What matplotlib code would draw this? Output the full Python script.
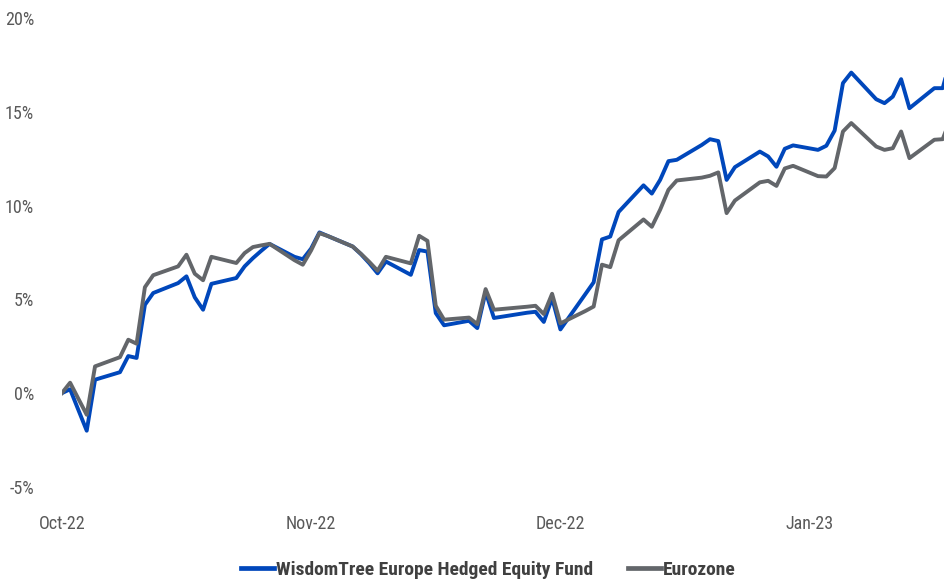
import matplotlib
matplotlib.use("Agg")
import matplotlib.pyplot as plt
import pandas as pd
from matplotlib import font_manager as fm

dates = ["2022-10-03","2022-10-04","2022-10-05","2022-10-06","2022-10-07",
         "2022-10-10","2022-10-11","2022-10-12","2022-10-13","2022-10-14",
         "2022-10-17","2022-10-18","2022-10-19","2022-10-20","2022-10-21",
         "2022-10-24","2022-10-25","2022-10-26","2022-10-27","2022-10-28",
         "2022-10-31","2022-11-01","2022-11-02","2022-11-03","2022-11-04",
         "2022-11-07","2022-11-08","2022-11-09","2022-11-10","2022-11-11",
         "2022-11-14","2022-11-15","2022-11-16","2022-11-17","2022-11-18",
         "2022-11-21","2022-11-22","2022-11-23","2022-11-24","2022-11-25",
         "2022-11-28","2022-11-29","2022-11-30","2022-12-01","2022-12-02",
         "2022-12-05","2022-12-06","2022-12-07","2022-12-08","2022-12-09",
         "2022-12-12","2022-12-13","2022-12-14","2022-12-15","2022-12-16",
         "2022-12-19","2022-12-20","2022-12-21","2022-12-22","2022-12-23",
         "2022-12-26","2022-12-27","2022-12-28","2022-12-29","2022-12-30",
         "2023-01-02","2023-01-03","2023-01-04","2023-01-05","2023-01-06",
         "2023-01-09","2023-01-10","2023-01-11","2023-01-12","2023-01-13",
         "2023-01-16","2023-01-17","2023-01-18"]

fund = [0.0, 0.21, -0.9, -2.0, 0.72,
        1.12, 1.98, 1.88, 4.71, 5.34,
        5.87, 6.23, 5.11, 4.45, 5.83,
        6.14, 6.76, 7.20, 7.59, 7.96,
        7.27, 7.14, 7.71, 8.57, 8.38,
        7.82, 7.41, 6.93, 6.39, 7.02,
        6.31, 7.63, 7.55, 4.27, 3.62,
        3.86, 3.47, 5.40, 4.01, 4.08,
        4.29, 4.34, 3.80, 5.07, 3.40,
        5.28, 5.91, 8.20, 8.35, 9.66,
        11.08, 10.64, 11.37, 12.37, 12.44,
        13.23, 13.54, 13.44, 11.37, 12.05,
        12.88, 12.62, 12.07, 13.03, 13.21,
        12.97, 13.19, 14.00, 16.53, 17.09,
        15.67, 15.46, 15.81, 16.74, 15.19,
        16.26, 16.26, 17.9]

eurozone = [0.0, 0.56, -0.3, -1.15, 1.43,
            1.92, 2.85, 2.64, 5.65, 6.29,
            6.76, 7.38, 6.37, 6.02, 7.27,
            6.94, 7.47, 7.79, 7.88, 7.96,
            7.09, 6.85, 7.61, 8.53, 8.38,
            7.82, 7.43, 7.00, 6.53, 7.27,
            6.92, 8.39, 8.12, 4.66, 3.92,
            4.03, 3.68, 5.55, 4.45, 4.49,
            4.61, 4.66, 4.22, 5.30, 3.72,
            4.38, 4.62, 6.85, 6.72, 8.15,
            9.26, 8.87, 9.78, 10.84, 11.34,
            11.49, 11.59, 11.77, 9.60, 10.27,
            11.24, 11.32, 11.05, 11.98, 12.12,
            11.57, 11.55, 12.00, 13.95, 14.40,
            13.15, 12.97, 13.06, 13.95, 12.53,
            13.51, 13.54, 14.7]

series_names = ["WisdomTree Europe Hedged Equity Fund", "Eurozone"]
tick_dates = ["2022-10-03", "2022-11-02", "2022-12-02", "2023-01-01"]
tick_labels = ["Oct-22", "Nov-22", "Dec-22", "Jan-23"]
y_ticks = [-5, 0, 5, 10, 15, 20]


def _weight(e):
    w = e.weight
    if isinstance(w, str):
        w = fm.weight_dict.get(w, 400)
    return w


def find_condensed(bold):
    pref = ["Liberation Sans Narrow", "Roboto Condensed", "Open Sans Condensed",
            "Noto Sans", "Open Sans", "DejaVu Sans", "Roboto", "Lato", "Inter"]
    best = None
    best_score = None
    for e in fm.fontManager.ttflist:
        nm = e.name
        fl = e.fname.lower()
        stretch = str(e.stretch).lower()
        cond = ("condensed" in stretch or "narrow" in nm.lower()
                or "condensed" in nm.lower() or "narrow" in fl or "condensed" in fl)
        if not cond:
            continue
        if e.style != "normal":
            continue
        if "extra" in fl or "ultra" in fl:
            continue
        w = _weight(e)
        target = 700 if bold else 400
        base = nm.replace(" Condensed", "").replace(" Narrow", "")
        rank = pref.index(nm) if nm in pref else (pref.index(base) if base in pref else 50)
        score = (abs(w - target), rank)
        if best_score is None or score < best_score:
            best_score = score
            best = e
    return best


reg = find_condensed(False)
bld = find_condensed(True)
if reg is not None:
    tick_fp = fm.FontProperties(fname=reg.fname, size=13)
else:
    tick_fp = fm.FontProperties(family="DejaVu Sans", stretch="condensed", size=11)
if bld is not None:
    leg_fp = fm.FontProperties(fname=bld.fname, size=14)
else:
    leg_fp = fm.FontProperties(family="DejaVu Sans", weight="bold", size=12)

x = pd.to_datetime(dates)
fig = plt.figure(figsize=(9.45, 5.80), dpi=100)
ax = fig.add_axes([61.8 / 945, 93 / 580, 1 - 61.8 / 945, 469 / 580])

blue = "#0047BB"
gray = "#63666A"
ax.plot(x, fund, color=blue, lw=2.8, label=series_names[0])
ax.plot(x, eurozone, color=gray, lw=2.8, label=series_names[1])

start = pd.Timestamp("2022-10-03")
ax.set_xlim(start, start + pd.Timedelta(days=106.28))
ax.set_ylim(-5, 20)
ax.set_yticks(y_ticks)
ax.set_yticklabels([f"{v}%" for v in y_ticks], fontproperties=tick_fp)
ax.set_xticks(pd.to_datetime(tick_dates))
ax.set_xticklabels(tick_labels, fontproperties=tick_fp)

for s in ax.spines.values():
    s.set_visible(False)
ax.tick_params(axis="both", length=0, colors="#595959")
ax.tick_params(axis="y", pad=20)
ax.tick_params(axis="x", pad=20)

leg = fig.legend(loc="center", bbox_to_anchor=(0.517, 0.017), ncol=2, frameon=False,
                 handlelength=1.7, handletextpad=0.1, columnspacing=1.8,
                 prop=leg_fp)
for t in leg.get_texts():
    t.set_color("#404040")
for h in leg.get_lines():
    h.set_linewidth(3.4)

fig.savefig("out.png", dpi=100)
